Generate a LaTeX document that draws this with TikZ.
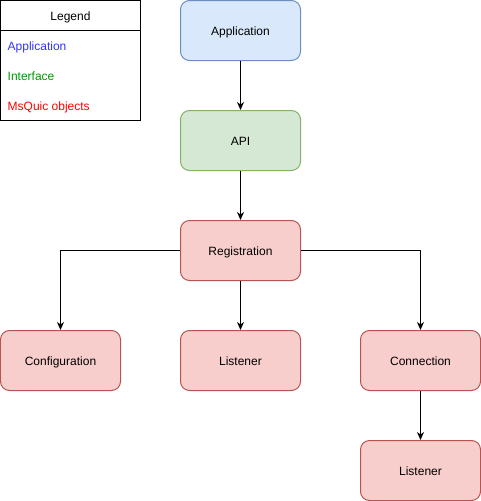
\documentclass[tikz,border=0pt]{standalone}
\usepackage{fontspec}
\setmainfont{Liberation Sans}
\usetikzlibrary{arrows.meta}
\definecolor{bluefill}{HTML}{DAE8FC}\definecolor{bluedraw}{HTML}{6C8EBF}
\definecolor{greenfill}{HTML}{D5E8D4}\definecolor{greendraw}{HTML}{82B366}
\definecolor{redfill}{HTML}{F8CECC}\definecolor{reddraw}{HTML}{B85450}
\definecolor{legblue}{HTML}{3333FF}\definecolor{leggreen}{HTML}{009900}\definecolor{legred}{HTML}{FF0000}
\begin{document}
\begin{tikzpicture}[x=1pt,y=-1pt,
  txt/.style={font=\fontsize{12pt}{14pt}\selectfont, text height=11pt, text depth=2pt},
  box/.style={txt, draw, rounded corners=9pt, minimum width=120pt, minimum height=60pt, inner sep=0pt, line width=1pt},
  appbox/.style={box, fill=bluefill, draw=bluedraw},
  apibox/.style={box, fill=greenfill, draw=greendraw},
  objbox/.style={box, fill=redfill, draw=reddraw},
  conn/.style={draw, line width=1pt, -{Stealth[length=8pt,width=7pt,inset=2.5pt]}},
  legtext/.style={txt, anchor=west, inner sep=0pt}]
\useasboundingbox (-0.5,-0.5) rectangle (480.5,500.5);
% legend
\draw[line width=1pt, fill=white] (0,0) rectangle (140,120);
\draw[line width=1pt] (0,30) -- (140,30);
\node[txt, inner sep=0pt] (leghead) at (70,15) {Legend};
\node[legtext, text=legblue] (legapp) at (7,45) {Application};
\node[legtext, text=leggreen] (legif) at (7,75) {Interface};
\node[legtext, text=legred] (legobj) at (7,105) {MsQuic objects};
% nodes
\node[appbox] (app) at (240,30) {Application};
\node[apibox] (api) at (240,140) {API};
\node[objbox] (reg) at (240,250) {Registration};
\node[objbox] (conf) at (60,360) {Configuration};
\node[objbox] (list1) at (240,360) {Listener};
\node[objbox] (connx) at (420,360) {Connection};
\node[objbox] (list2) at (420,470) {Listener};
% connectors
\draw[conn] (app) -- (api);
\draw[conn] (api) -- (reg);
\draw[conn] (reg.west) -| (conf.north);
\draw[conn] (reg) -- (list1);
\draw[conn] (reg.east) -| (connx.north);
\draw[conn] (connx) -- (list2);
\end{tikzpicture}
\end{document}
